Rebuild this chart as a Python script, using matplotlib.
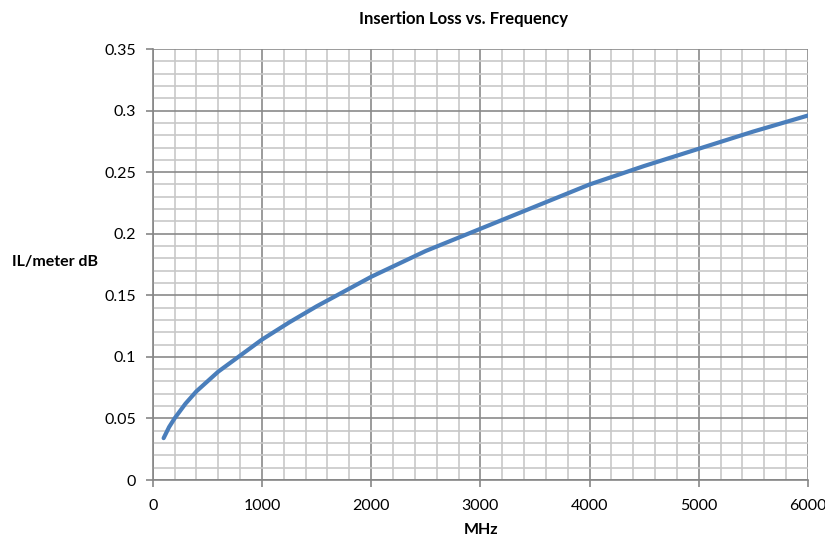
import matplotlib
matplotlib.use("Agg")
import matplotlib.pyplot as plt
from matplotlib.ticker import MultipleLocator

plt.rcParams['font.family'] = ['Lato', 'DejaVu Sans']

freq_mhz = [100, 150, 200, 250, 300, 400, 500, 600, 800, 1000, 1250, 1500, 1750, 2000,
            2500, 3000, 3500, 4000, 4500, 5000, 5500, 6000]
il_db = [0.034, 0.043, 0.050, 0.056, 0.062, 0.072, 0.080, 0.088, 0.101, 0.114, 0.128, 0.141,
         0.153, 0.165, 0.186, 0.204, 0.222, 0.240, 0.255, 0.269, 0.283, 0.296]

title = "Insertion Loss vs. Frequency"
xlabel = "MHz"
ylabel = "IL/meter dB"

fig = plt.figure(figsize=(8.25, 5.38), dpi=100)
ax = fig.add_axes([0.1851, 0.1078, 0.9794 - 0.1851, 0.9089 - 0.1078])

ax.set_xlim(0, 6000)
ax.set_ylim(0, 0.35)
ax.xaxis.set_major_locator(MultipleLocator(1000))
ax.xaxis.set_minor_locator(MultipleLocator(200))
ax.yaxis.set_major_locator(MultipleLocator(0.05))
ax.yaxis.set_minor_locator(MultipleLocator(0.01))

ax.grid(which='minor', color='#c8c8c8', linewidth=1.2)
ax.grid(which='major', color='#8a8a8a', linewidth=1.2)
ax.set_axisbelow(True)

ax.plot(freq_mhz, il_db, color='#4a7ebb', linewidth=3, solid_capstyle='round',
        solid_joinstyle='round', zorder=3)

for s in ['top', 'right']:
    ax.spines[s].set_visible(False)
for s in ['left', 'bottom']:
    ax.spines[s].set_color('#868686')
    ax.spines[s].set_linewidth(1.2)

ax.tick_params(which='major', direction='out', length=5, width=1.2, color='#868686',
               labelsize=11.5, labelcolor='black')
ax.tick_params(axis='x', which='major', pad=9)
ax.tick_params(axis='y', which='major', pad=7)
ax.tick_params(which='minor', length=0)

ax.set_yticks([0, 0.05, 0.1, 0.15, 0.2, 0.25, 0.3, 0.35])
ax.set_yticklabels(['0', '0.05', '0.1', '0.15', '0.2', '0.25', '0.3', '0.35'])

fig.text(464 / 825, 1 - 19 / 538, title, ha='center', va='center', fontsize=12, fontweight='bold')
fig.text(481 / 825, 1 - 530 / 538, xlabel, ha='center', va='center', fontsize=11.5, fontweight='bold')
fig.text(12 / 825, 1 - 262 / 538, ylabel, ha='left', va='center', fontsize=11.5, fontweight='bold')

fig.savefig('out.png', dpi=100)
